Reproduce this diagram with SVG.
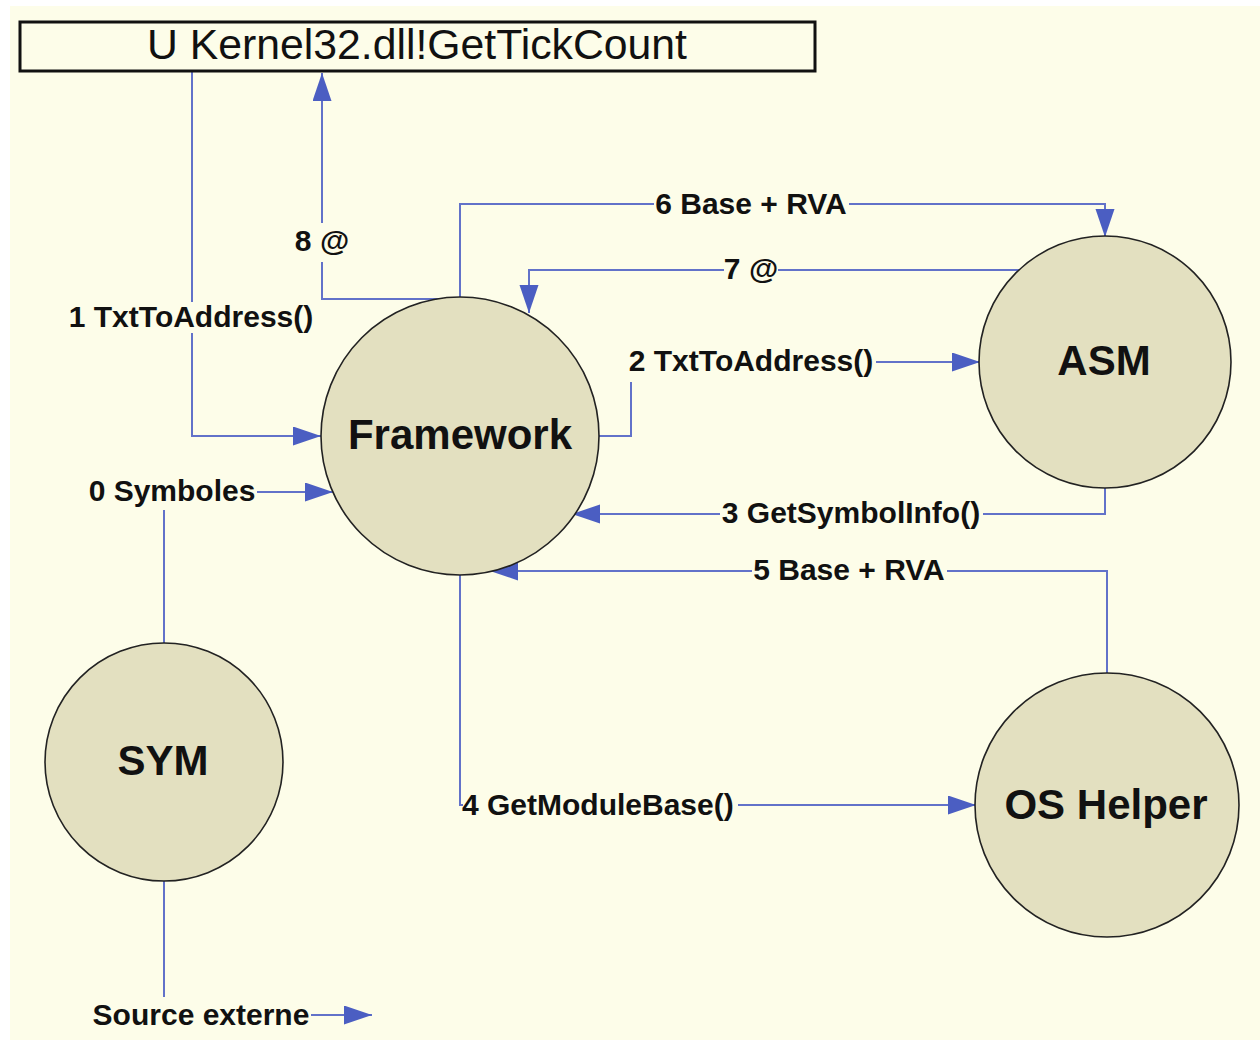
<svg xmlns="http://www.w3.org/2000/svg" width="1260" height="1041" viewBox="0 0 1260 1041">
  <defs>
    <style>
      .bg { fill: #fdfde9; }
      .wire { fill: none; stroke: #6272c9; stroke-width: 2; marker-end: url(#arrow); }
      .gap { fill: #fdfde9; }
      .lbl { font-family: "Liberation Sans", Arial, sans-serif; font-weight: bold; font-size: 30px; fill: #111; }
      .node circle { fill: #e3e0c0; stroke: #222; stroke-width: 1.6; }
      .node text { font-family: "Liberation Sans", Arial, sans-serif; font-weight: bold; font-size: 42px; fill: #111; text-anchor: middle; }
      .title { font-family: "Liberation Sans", Arial, sans-serif; font-size: 42px; fill: #111; text-anchor: middle; }
    </style>
    <marker id="arrow" markerUnits="userSpaceOnUse" markerWidth="30" markerHeight="20" refX="28" refY="9.5" orient="auto">
      <path d="M0,0 L28,9.5 L0,19 z" fill="#4b5ec2"/>
    </marker>
  </defs>

  <rect x="0" y="0" width="1260" height="1041" fill="#ffffff"/>
  <rect class="bg" x="10" y="6" width="1250" height="1034"/>

  <!-- connectors -->
  <g id="connectors">
    <!-- 1 TxtToAddress(): symbol box to Framework -->
    <path class="wire" d="M192,71 V436 H321"/>
    <!-- 8 @: Framework back to symbol box -->
    <path class="wire" d="M440,299 H322 V73"/>
    <!-- 6 Base + RVA: Framework to ASM -->
    <path class="wire" d="M460,300 V204 H1105 V237"/>
    <!-- 7 @: ASM to Framework -->
    <path class="wire" d="M1020,270 H529 V313"/>
    <!-- 2 TxtToAddress(): Framework to ASM -->
    <path class="wire" d="M596,436 H631 V362 H980"/>
    <!-- 3 GetSymbolInfo(): ASM to Framework -->
    <path class="wire" d="M1105,486 V514 H572"/>
    <!-- 5 Base + RVA: OS Helper to Framework -->
    <path class="wire" d="M1107,675 V571 H490"/>
    <!-- 4 GetModuleBase(): Framework to OS Helper -->
    <path class="wire" d="M460,572 V805 H976"/>
    <!-- 0 Symboles: SYM to Framework -->
    <path class="wire" d="M164,646 V492 H333"/>
    <!-- Source externe -->
    <path class="wire" d="M164,880 V1015 H372"/>

    <!-- label backgrounds breaking the lines -->
    <rect class="gap" x="67" y="302" width="249" height="31"/>
    <rect class="gap" x="294" y="223" width="56" height="39"/>
    <rect class="gap" x="654" y="189" width="195" height="32"/>
    <rect class="gap" x="724" y="255" width="54" height="32"/>
    <rect class="gap" x="626" y="348" width="250" height="34"/>
    <rect class="gap" x="720" y="499" width="263" height="32"/>
    <rect class="gap" x="752" y="556" width="195" height="32"/>
    <rect class="gap" x="463" y="790" width="275" height="32"/>
    <rect class="gap" x="88" y="476" width="169" height="34"/>
    <rect class="gap" x="92" y="997" width="219" height="35"/>

    <text class="lbl" x="191" y="327" text-anchor="middle">1 TxtToAddress()</text>
    <text class="lbl" x="322" y="251" text-anchor="middle">8 @</text>
    <text class="lbl" x="751" y="214" text-anchor="middle">6 Base + RVA</text>
    <text class="lbl" x="751" y="279" text-anchor="middle">7 @</text>
    <text class="lbl" x="751" y="371" text-anchor="middle">2 TxtToAddress()</text>
    <text class="lbl" x="851" y="523" text-anchor="middle">3 GetSymbolInfo()</text>
    <text class="lbl" x="849" y="580" text-anchor="middle">5 Base + RVA</text>
    <text class="lbl" x="462" y="815">4 GetModuleBase()</text>
    <text class="lbl" x="172" y="501" text-anchor="middle">0 Symboles</text>
    <text class="lbl" x="201" y="1025" text-anchor="middle">Source externe</text>
  </g>

  <!-- symbol box -->
  <g id="symbol">
    <rect x="20" y="22" width="795" height="49" fill="#fdfde9" stroke="#111" stroke-width="3"/>
    <text class="title" x="417" y="59" textLength="540" lengthAdjust="spacingAndGlyphs">U Kernel32.dll!GetTickCount</text>
  </g>

  <g id="framework" class="node">
    <circle cx="460" cy="436" r="139"/>
    <text x="460" y="449">Framework</text>
  </g>

  <g id="asm" class="node">
    <circle cx="1105" cy="362" r="126"/>
    <text x="1104" y="375">ASM</text>
  </g>

  <g id="sym" class="node">
    <circle cx="164" cy="762" r="119"/>
    <text x="163" y="775">SYM</text>
  </g>

  <g id="oshelper" class="node">
    <circle cx="1107" cy="805" r="132"/>
    <text x="1106" y="819">OS Helper</text>
  </g>
</svg>
